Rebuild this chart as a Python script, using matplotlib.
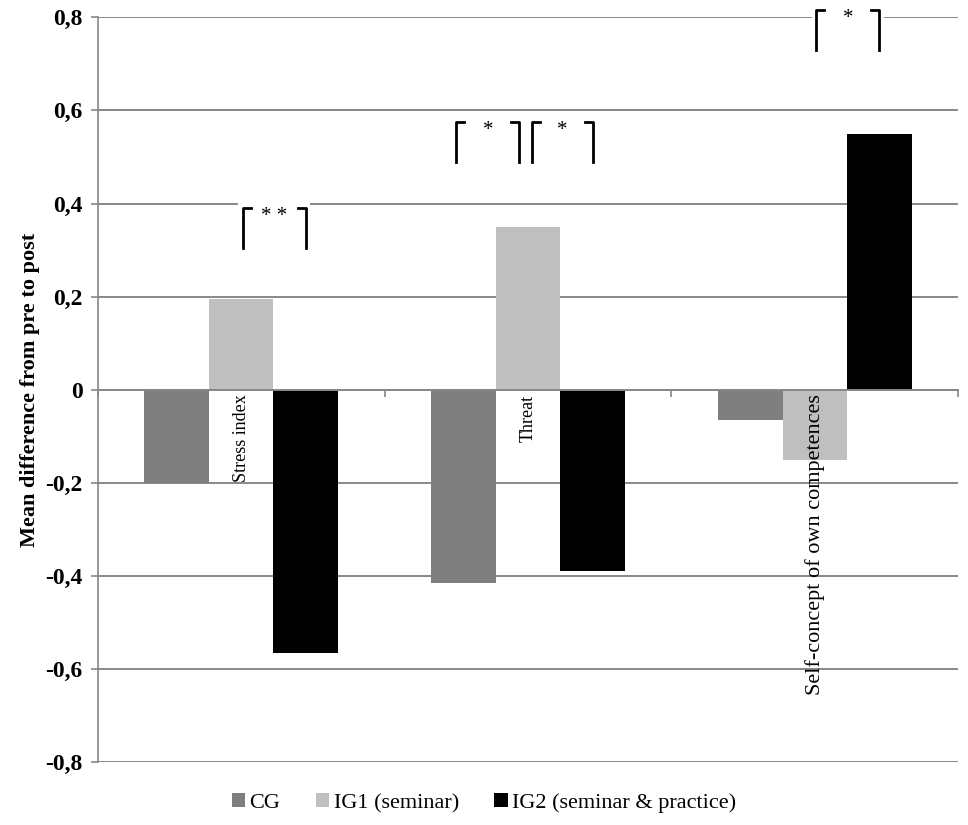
import matplotlib
matplotlib.use("Agg")
import matplotlib.pyplot as plt
from matplotlib.patches import Rectangle
from matplotlib.ticker import FuncFormatter

plt.rcParams['font.family'] = ['Liberation Serif', 'DejaVu Serif']

categories = ["Stress index", "Threat", "Self-concept of own competences"]
groups = ["CG", "IG1 (seminar)", "IG2 (seminar & practice)"]
colors = ["#7f7f7f", "#bfbfbf", "#000000"]
cg = [-0.20, -0.415, -0.065]
ig1 = [0.195, 0.35, -0.15]
ig2 = [-0.565, -0.39, 0.55]

# significance brackets: category, from bar, to bar, stars, top of bracket
sig_cat = [0, 1, 1, 2]
sig_from = [1, 0, 1, 1]
sig_to = [2, 1, 2, 2]
sig_text = ["* *", "*", "*", "*"]
sig_top = [0.39, 0.575, 0.575, 0.815]

fig = plt.figure(figsize=(9.68, 8.25), dpi=100)
ax = fig.add_axes([0.101, 0.076, 0.889, 0.903])

w = 0.225
values = [cg, ig1, ig2]
for j in range(3):
    xs = [i + (j - 1) * w for i in range(len(categories))]
    ax.bar(xs, values[j], width=w, color=colors[j], label=groups[j], zorder=3)

ax.set_xlim(-0.5, 2.5)
ax.set_ylim(-0.8, 0.8)
ax.set_yticks([-0.8, -0.6, -0.4, -0.2, 0, 0.2, 0.4, 0.6, 0.8])
ax.yaxis.set_major_formatter(FuncFormatter(
    lambda v, p: "0" if abs(v) < 1e-9 else ("%.1f" % v).replace(".", ",")))
for lab in ax.get_yticklabels():
    lab.set_fontweight("bold")
ax.tick_params(axis="y", labelsize=17, length=5, pad=6, color="#888888", width=1.2)
ax.grid(axis="y", color="#888888", linewidth=1.4, zorder=0)

ax.spines["top"].set_visible(False)
ax.spines["right"].set_visible(False)
ax.spines["left"].set_color("#888888")
ax.spines["left"].set_linewidth(1.2)
ax.spines["bottom"].set_position(("data", 0))
ax.spines["bottom"].set_color("#888888")
ax.spines["bottom"].set_linewidth(1.4)
ax.spines["bottom"].set_zorder(4)
ax.set_xticks([-0.5, 0.5, 1.5, 2.5])
ax.set_xticklabels([])
ax.tick_params(axis="x", length=5, color="#888888", width=1.2)

ax.set_ylabel("Mean difference from pre to post", fontsize=16, fontweight="bold", labelpad=4)

label_sizes = [13, 13, 16]
for i, c in enumerate(categories):
    ax.text(i, -0.01, c, rotation=90, ha="center", va="top", fontsize=label_sizes[i], zorder=5)

# brackets
drop = 0.085
hook = 0.028
for k in range(len(sig_cat)):
    i = sig_cat[k]
    x0 = i + (sig_from[k] - 1) * w
    x1 = i + (sig_to[k] - 1) * w
    if sig_to[k] - sig_from[k] == 1 and sig_cat[k] == 1:
        if sig_from[k] == 0:
            x0 -= 0.03
            x1 -= 0.03
        else:
            x0 += 0.01
    x0 += 0.005
    y = sig_top[k]
    ax.add_patch(Rectangle((x0 - 0.015, y - 0.02), x1 - x0 + 0.03, 0.035,
                           facecolor="white", edgecolor="none", zorder=2, clip_on=False))
    ax.plot([x0, x0, x0 + hook], [y - drop, y, y], color="black", lw=2, zorder=6, clip_on=False)
    ax.plot([x1 - hook, x1, x1], [y, y, y - drop], color="black", lw=2, zorder=6, clip_on=False)
    ax.text((x0 + x1) / 2, y + 0.003, sig_text[k], ha="center", va="top", fontsize=15, zorder=6)

fig.legend(loc="lower center", ncol=3, frameon=False, fontsize=16,
           handlelength=0.6, handleheight=0.6, handletextpad=0.2, columnspacing=1.6,
           bbox_to_anchor=(0.5, -0.01))

fig.savefig("out.png", dpi=100)
